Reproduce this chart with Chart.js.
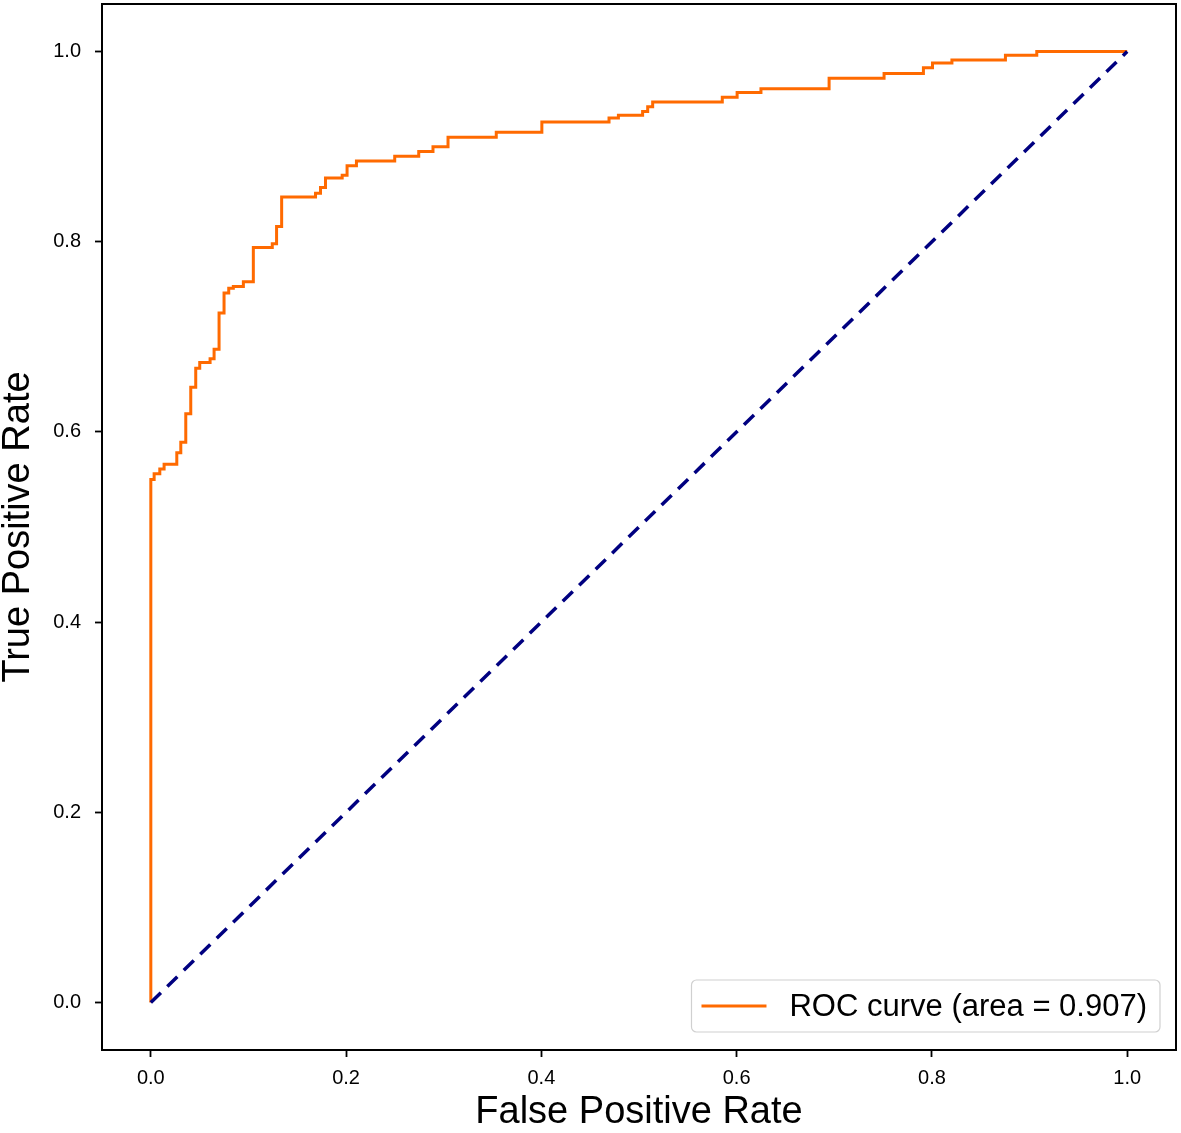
<!DOCTYPE html>
<html>
<head>
<meta charset="utf-8">
<script src="https://cdn.jsdelivr.net/npm/chart.js@4/dist/chart.umd.min.js"></script>
<style>
  body { margin: 0; background: #fff; }
  canvas { display: block; }
</style>
</head>
<body>
<canvas id="roc" width="1181" height="1133"></canvas>
<script>
// step points of the ROC curve (fpr where the step happens, tpr after the step)
const fpr = [0, 0, 0.0034, 0.0092, 0.0136, 0.0266, 0.0307, 0.0358, 0.0409, 0.046, 0.0501,
  0.0607, 0.0648, 0.0699, 0.075, 0.0798, 0.0845, 0.0948, 0.105, 0.1244, 0.1288, 0.134,
  0.1687, 0.1738, 0.1789, 0.196, 0.201, 0.2106, 0.2498, 0.2744, 0.289, 0.3044, 0.3538,
  0.4005, 0.4693, 0.4789, 0.5037, 0.5089, 0.514, 0.5853, 0.6005, 0.6249, 0.6947, 0.751,
  0.7913, 0.8006, 0.8205, 0.8753, 0.9074, 1.0];
const tpr = [0, 0.550, 0.556, 0.561, 0.566, 0.578, 0.589, 0.619, 0.647, 0.667, 0.673,
  0.677, 0.687, 0.725, 0.746, 0.751, 0.753, 0.758, 0.794, 0.798, 0.816, 0.847,
  0.851, 0.857, 0.867, 0.870, 0.880, 0.885, 0.890, 0.895, 0.900, 0.910, 0.915,
  0.926, 0.930, 0.933, 0.937, 0.942, 0.947, 0.952, 0.957, 0.961, 0.972, 0.977,
  0.983, 0.988, 0.991, 0.996, 1.0, 1.0];
const chanceX = [0, 1];
const chanceY = [0, 1];
const tickValues = [0, 0.2, 0.4, 0.6, 0.8, 1.0];
const rocLabel = 'ROC curve (area = 0.907)';

const FONT = '"Liberation Sans", Arial, sans-serif';

// box around the plot + legend in the lower right corner
const framePlugin = {
  id: 'frame',
  afterDraw(chart) {
    const { ctx, chartArea: a } = chart;
    ctx.save();
    ctx.strokeStyle = '#000';
    ctx.lineWidth = 2;
    ctx.strokeRect(a.left, a.top, a.right - a.left, a.bottom - a.top);

    const ds = chart.data.datasets[0];
    ctx.font = '31px ' + FONT;
    const tw = ctx.measureText(ds.label).width;
    const w = 10 + 65 + 23 + tw + 13;
    const h = 52;
    const x = a.right - 16 - w;
    const y = a.bottom - 18 - h;
    ctx.beginPath();
    ctx.roundRect(x, y, w, h, 5);
    ctx.fillStyle = 'rgba(255,255,255,0.85)';
    ctx.fill();
    ctx.strokeStyle = '#d0d0d0';
    ctx.lineWidth = 1.2;
    ctx.stroke();
    ctx.beginPath();
    ctx.moveTo(x + 10, y + h / 2);
    ctx.lineTo(x + 75, y + h / 2);
    ctx.strokeStyle = ds.borderColor;
    ctx.lineWidth = ds.borderWidth;
    ctx.stroke();
    ctx.fillStyle = '#000';
    ctx.textBaseline = 'middle';
    ctx.fillText(ds.label, x + 98, y + h / 2 + 1);
    ctx.restore();
  }
};

const axisCommon = {
  type: 'linear',
  min: -0.05,
  max: 1.05,
  afterBuildTicks(scale) {
    scale.ticks = tickValues.map(v => ({ value: v }));
  },
  grid: {
    display: true,
    drawOnChartArea: false,
    drawTicks: true,
    tickLength: 7,
    tickWidth: 1.8,
    tickColor: '#000'
  },
  border: { display: false }
};

new Chart(document.getElementById('roc'), {
  type: 'scatter',
  data: {
    datasets: [{
      label: rocLabel,
      data: fpr.map((x, i) => ({ x, y: tpr[i] })),
      showLine: true,
      stepped: 'before',
      borderColor: '#ff6a00',
      borderWidth: 3,
      pointRadius: 0,
      order: 2
    }, {
      label: 'chance',
      data: chanceX.map((x, i) => ({ x, y: chanceY[i] })),
      showLine: true,
      borderColor: '#000080',
      borderWidth: 3.5,
      borderDash: [14, 9],
      pointRadius: 0,
      order: 1
    }]
  },
  options: {
    responsive: false,
    animation: false,
    layout: { padding: { left: 0, right: 5, top: 4, bottom: 0 } },
    plugins: {
      legend: { display: false },
      tooltip: { enabled: false }
    },
    scales: {
      x: Object.assign({}, axisCommon, {
        position: 'bottom',
        afterFit(scale) { scale.height = 83; scale.paddingLeft = 0; scale.paddingRight = 0; },
        ticks: {
          color: '#000',
          padding: 9,
          font: { family: FONT, size: 20 },
          callback: v => v.toFixed(1)
        },
        title: {
          display: true,
          text: 'False Positive Rate',
          color: '#000',
          font: { family: FONT, size: 38, lineHeight: 1 },
          padding: { top: 0, bottom: 1 }
        }
      }),
      y: Object.assign({}, axisCommon, {
        position: 'left',
        afterFit(scale) { scale.width = 102; scale.paddingTop = 0; scale.paddingBottom = 0; },
        ticks: {
          color: '#000',
          padding: 14,
          font: { family: FONT, size: 20 },
          callback: v => v.toFixed(1)
        },
        title: {
          display: true,
          text: 'True Positive Rate',
          color: '#000',
          font: { family: FONT, size: 38, lineHeight: 1 },
          padding: { top: 0, bottom: 0 }
        }
      })
    }
  },
  plugins: [framePlugin]
});
</script>
</body>
</html>
